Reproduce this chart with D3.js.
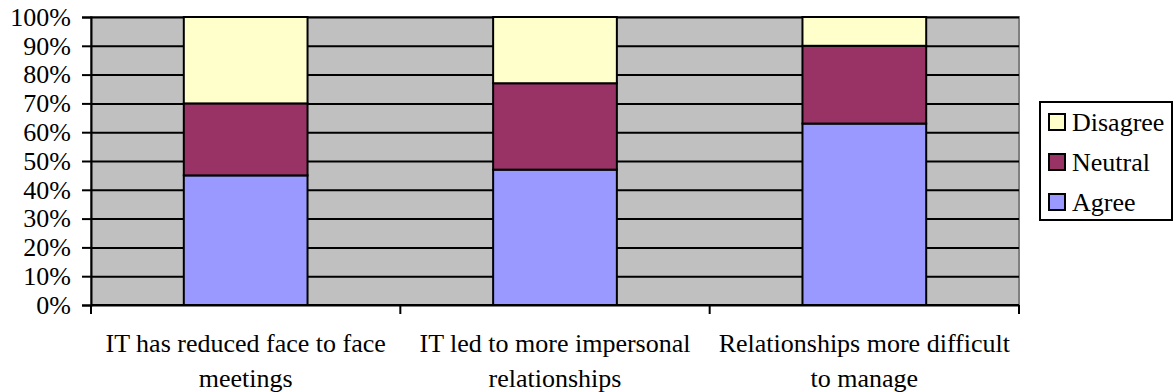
<!DOCTYPE html>
<html>
<head>
<meta charset="utf-8">
<script src="https://cdn.jsdelivr.net/npm/d3@7"></script>
<style>
  html, body { margin: 0; padding: 0; background: #fff; }
  svg { display: block; }
  text { font-family: "Liberation Serif", "Times New Roman", serif; fill: #000; }
</style>
</head>
<body>
<svg id="chart" width="1175" height="392"></svg>
<script>
// Survey statements (x categories)
const categories = [
  "IT has reduced face to face meetings",
  "IT led to more impersonal relationships",
  "Relationships more difficult to manage"
];
// Share of responses per statement (percent)
const agree    = [45, 47, 63];
const neutral  = [25, 30, 27];
const disagree = [30, 23, 10];

const seriesNames  = ["Agree", "Neutral", "Disagree"];
const seriesColors = ["#9999FF", "#993366", "#FFFFCC"];
const yTicks = [0, 10, 20, 30, 40, 50, 60, 70, 80, 90, 100];

const svg = d3.select("#chart");
const plot = { left: 91, right: 1019, top: 17, bottom: 305 };
const fontSize = 26;

const x = d3.scaleBand()
  .domain(categories)
  .range([plot.left, plot.right])
  .paddingInner(0.6)
  .paddingOuter(0.3);

const y = d3.scaleLinear().domain([0, 100]).range([plot.bottom, plot.top]);

// plot background
svg.append("rect")
  .attr("x", plot.left).attr("y", plot.top)
  .attr("width", plot.right - plot.left).attr("height", plot.bottom - plot.top)
  .attr("fill", "#C0C0C0")
  .attr("stroke", "#808080").attr("stroke-width", 2);

// horizontal gridlines
svg.append("g")
  .attr("transform", `translate(${plot.left},0)`)
  .call(d3.axisLeft(y).tickValues(yTicks).tickSize(-(plot.right - plot.left)).tickFormat(""))
  .call(g => g.select(".domain").remove())
  .call(g => g.selectAll("line").attr("stroke", "#000").attr("stroke-width", 2));

// stacked bars
const rows = categories.map((c, i) => ({ cat: c, Agree: agree[i], Neutral: neutral[i], Disagree: disagree[i] }));
const stacked = d3.stack().keys(seriesNames)(rows);

svg.append("g").selectAll("g")
  .data(stacked)
  .join("g")
  .attr("fill", (d, i) => seriesColors[i])
  .selectAll("rect")
  .data(d => d)
  .join("rect")
  .attr("x", d => x(d.data.cat))
  .attr("width", x.bandwidth())
  .attr("y", d => y(d[1]))
  .attr("height", d => y(d[0]) - y(d[1]))
  .attr("stroke", "#000")
  .attr("stroke-width", 2);

// y axis
const yAxis = svg.append("g")
  .attr("transform", `translate(${plot.left},0)`)
  .call(d3.axisLeft(y).tickValues(yTicks).tickSize(9).tickPadding(11).tickFormat(d => d + "%"));
yAxis.select(".domain").attr("stroke", "#000").attr("stroke-width", 2);
yAxis.selectAll("line").attr("stroke", "#000").attr("stroke-width", 2);
yAxis.selectAll("text")
  .style("font-size", fontSize + "px")
  .style("font-family", "'Liberation Serif', 'Times New Roman', serif");

// x axis line with ticks at category boundaries
const step = x.step();
const boundaries = d3.range(categories.length + 1).map(i => plot.left + i * step);
const xg = svg.append("g");
xg.append("line")
  .attr("x1", plot.left).attr("x2", plot.right)
  .attr("y1", plot.bottom).attr("y2", plot.bottom)
  .attr("stroke", "#000").attr("stroke-width", 2);
xg.selectAll(".tick")
  .data(boundaries)
  .join("line")
  .attr("x1", d => d).attr("x2", d => d)
  .attr("y1", plot.bottom).attr("y2", plot.bottom + 9)
  .attr("stroke", "#000").attr("stroke-width", 2);

// category labels, wrapped to the band width
const labels = svg.append("g").selectAll("text")
  .data(categories)
  .join("text")
  .attr("x", d => x(d) + x.bandwidth() / 2)
  .attr("y", 352)
  .attr("text-anchor", "middle")
  .style("font-size", fontSize + "px");

labels.each(function(d) {
  const t = d3.select(this);
  const words = d.split(" ");
  let line = [];
  let lines = [];
  const probe = t.append("tspan");
  for (const w of words) {
    line.push(w);
    probe.text(line.join(" "));
    if (probe.node().getComputedTextLength() > 302 && line.length > 1) {
      line.pop();
      lines.push(line.join(" "));
      line = [w];
    }
  }
  lines.push(line.join(" "));
  probe.remove();
  lines.forEach((l, i) => {
    t.append("tspan")
      .attr("x", t.attr("x"))
      .attr("dy", i === 0 ? 0 : 35)
      .text(l);
  });
});

// legend
const legendItems = seriesNames.map((n, i) => ({ name: n, color: seriesColors[i] })).reverse();
const legend = svg.append("g");
const lg = { x: 1040, y: 102, w: 132, h: 118, rowH: 40 };
legend.append("rect")
  .attr("x", lg.x).attr("y", lg.y).attr("width", lg.w).attr("height", lg.h)
  .attr("fill", "#fff").attr("stroke", "#000").attr("stroke-width", 2);
const li = legend.selectAll("g.item")
  .data(legendItems)
  .join("g")
  .attr("class", "item")
  .attr("transform", (d, i) => `translate(${lg.x + 9},${lg.y + 20 + i * lg.rowH})`);
li.append("rect")
  .attr("x", 0).attr("y", -8).attr("width", 16).attr("height", 16)
  .attr("fill", d => d.color).attr("stroke", "#000").attr("stroke-width", 2);
li.append("text")
  .attr("x", 23).attr("y", 9)
  .style("font-size", fontSize + "px")
  .text(d => d.name);
</script>
</body>
</html>
